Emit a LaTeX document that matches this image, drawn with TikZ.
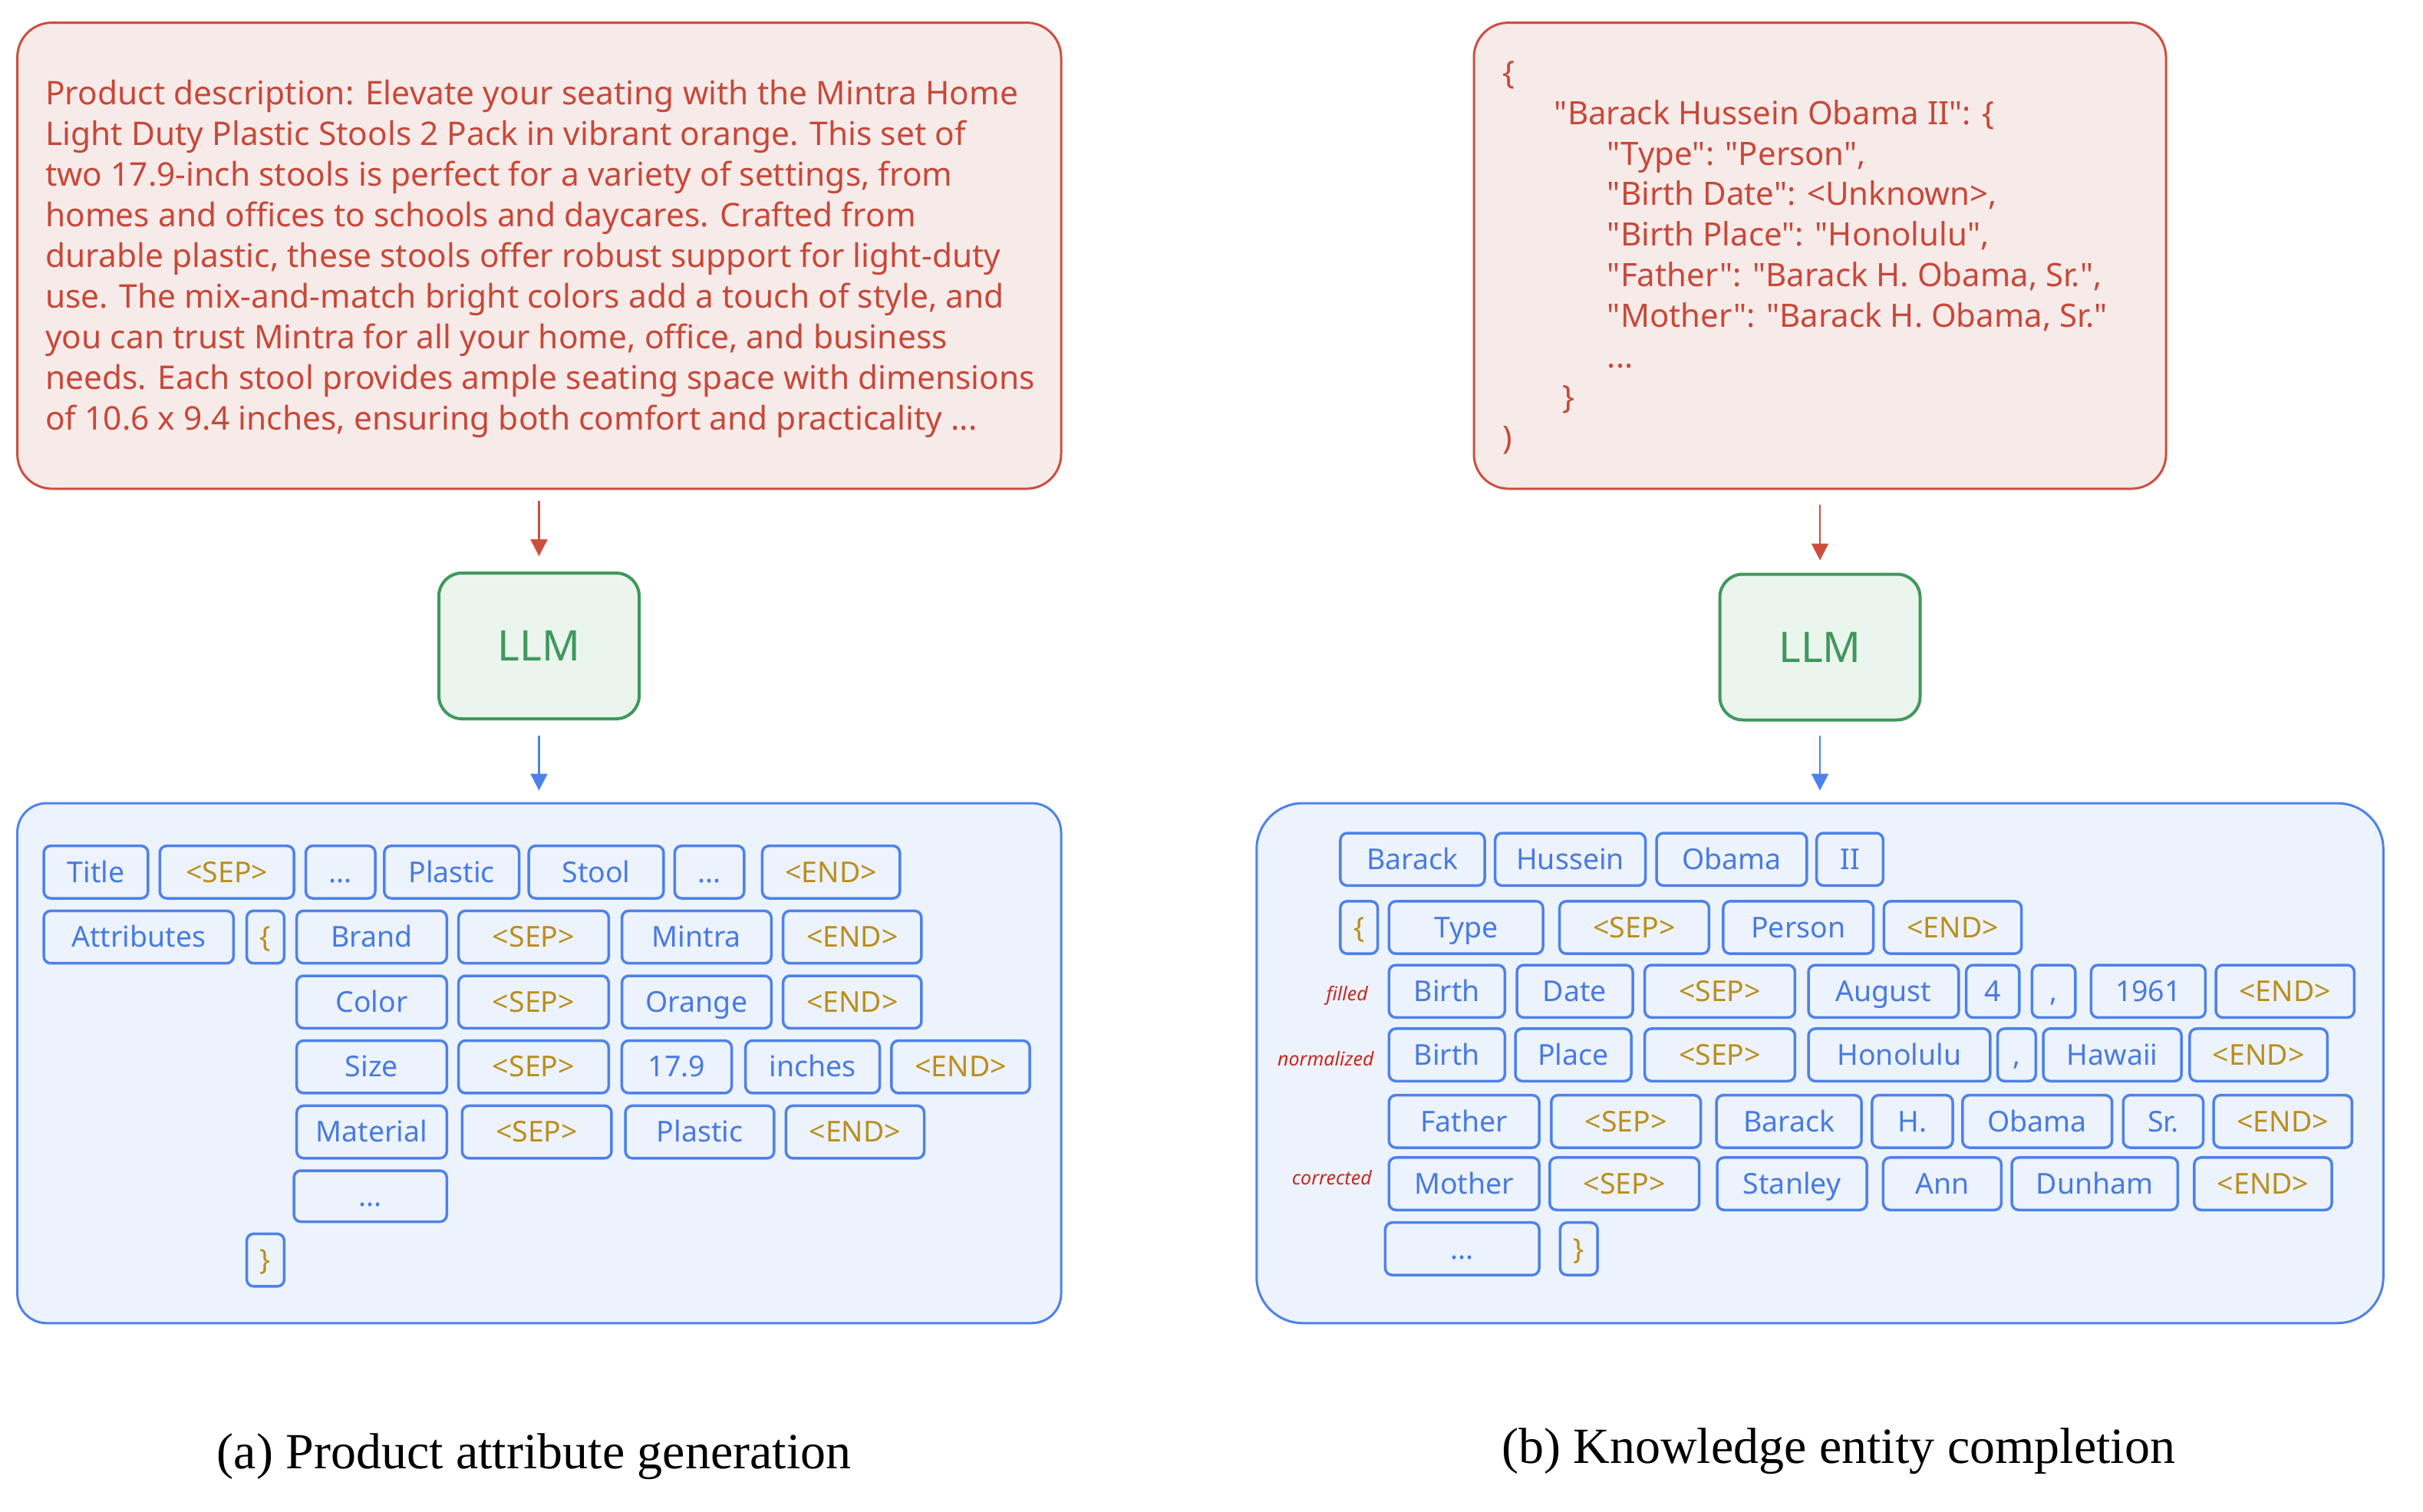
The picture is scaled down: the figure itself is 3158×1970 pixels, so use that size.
\documentclass[tikz,border=0pt]{standalone}
\usepackage{fontspec}
\setmainfont{Noto Sans}[Ligatures=TeXOff]
\newfontfamily\capfont{Liberation Serif}
\usetikzlibrary{arrows.meta}
\definecolor{redline}{RGB}{206,78,62}
\definecolor{redtxt}{RGB}{200,72,56}
\definecolor{pinkfill}{RGB}{247,235,234}
\definecolor{greenline}{RGB}{64,152,92}
\definecolor{greenfill}{RGB}{234,245,237}
\definecolor{blueline}{RGB}{78,130,234}
\definecolor{bluefill}{RGB}{237,243,253}
\definecolor{bluetxt}{RGB}{72,122,226}
\definecolor{gold}{RGB}{186,143,30}
\definecolor{labred}{RGB}{200,42,32}
\begin{document}
\begin{tikzpicture}[x=1pt,y=-1pt,
  bigred/.style={draw=redline, fill=pinkfill, line width=3pt, rounded corners=45pt, inner sep=0pt},
  bigblue/.style={draw=blueline, fill=bluefill, line width=3pt, inner sep=0pt},
  llmbox/.style={draw=greenline, fill=greenfill, line width=4pt, rounded corners=30pt,
    minimum width=261pt, minimum height=190pt, inner sep=0pt, text=greenline,
    font=\fontsize{55}{66}\selectfont},
  tok/.style={draw=blueline, fill=bluefill, line width=3.5pt, rounded corners=9pt,
    minimum height=68.4pt, inner sep=0pt, text=bluetxt, text height=33pt, text depth=6.6pt,
    font=\fontsize{37.5}{44}\selectfont},
  goldtok/.style={tok, text=gold},
  lab/.style={text=labred, inner sep=0pt, font=\fontsize{25}{28}\selectfont\itshape},
  redarr/.style={draw=redline, line width=2.5pt, -{Triangle[width=22pt,length=22pt]}},
  bluearr/.style={draw=blueline, line width=2.5pt, -{Triangle[width=22pt,length=22pt]}},
  captxt/.style={inner sep=0pt, font=\capfont\fontsize{66}{80}\selectfont}
]
\useasboundingbox (0,0) rectangle (3158,1970);

% ---------- big boxes ----------
\node[bigred, minimum width=1360.4pt, minimum height=607.5pt] (tl) at (702.8,333.3) {};
\node[bigred, minimum width=902pt, minimum height=607.5pt] (tr) at (2372,333.3) {};
\node[bigblue, rounded corners=38pt, minimum width=1360.4pt, minimum height=677.7pt] (bl) at (702.8,1385.9) {};
\node[bigblue, rounded corners=60pt, minimum width=1468.5pt, minimum height=677.7pt] (br) at (2372,1385.9) {};

% ---------- top texts ----------
\node[anchor=north west, align=left, inner sep=0pt, text=redtxt, font=\fontsize{42.5}{53}\selectfont] (desc) at (58.9,98.9)
{\strut Product description: Elevate your seating with the Mintra Home\\
Light Duty Plastic Stools 2 Pack in vibrant orange. This set of\\
two 17.9-inch stools is perfect for a variety of settings, from\\
homes and offices to schools and daycares. Crafted from\\
durable plastic, these stools offer robust support for light-duty\\
use. The mix-and-match bright colors add a touch of style, and\\
you can trust Mintra for all your home, office, and business\\
needs. Each stool provides ample seating space with dimensions\\
of 10.6 x 9.4 inches, ensuring both comfort and practicality ...};

\node[anchor=north west, align=left, inner sep=0pt, text=redtxt, font=\fontsize{42}{52.9}\selectfont] (json) at (1958.7,72)
{\strut\{\\
\hspace*{67pt}"Barack Hussein Obama II": \{\\
\hspace*{136pt}"Type": "Person",\\
\hspace*{136pt}"Birth Date": <Unknown>,\\
\hspace*{136pt}"Birth Place": "Honolulu",\\
\hspace*{136pt}"Father": "Barack H. Obama, Sr.",\\
\hspace*{136pt}"Mother": "Barack H. Obama, Sr."\\
\hspace*{136pt}...\\
\hspace*{78pt}\}\\
)};

% ---------- LLM boxes and arrows ----------
\node[llmbox] (llm1) at (702.5,842) {LLM};
\node[llmbox] (llm2) at (2372,843.5) {LLM};
\draw[redarr, shorten <=14pt, shorten >=20pt] (tl.south -| llm1.north) -- (llm1.north);
\draw[bluearr, shorten <=20pt, shorten >=15pt] (llm1.south) -- (llm1.south |- bl.north);
\draw[redarr, shorten <=19pt, shorten >=16pt] (tr.south -| llm2.north) -- (llm2.north);
\draw[bluearr, shorten <=18pt, shorten >=15pt] (llm2.south) -- (llm2.south |- br.north);

% ---------- left tokens ----------
\node[tok, minimum width=135.8pt] (a11) at (125,1136.8) {Title};
\node[goldtok, minimum width=174.8pt] (a12) at (295.7,1136.8) {<SEP>};
\node[tok, minimum width=90.5pt] (a13) at (443.8,1136.8) {...};
\node[tok, minimum width=175.7pt] (a14) at (588.7,1136.8) {Plastic};
\node[tok, minimum width=175.7pt] (a15) at (777,1136.8) {Stool};
\node[tok, minimum width=90.5pt] (a16) at (924.6,1136.8) {...};
\node[goldtok, minimum width=179.3pt] (a17) at (1083.1,1136.8) {<END>};

\node[tok, minimum width=247.2pt] (a21) at (180.7,1221.5) {Attributes};
\node[goldtok, minimum width=48.9pt] (a22) at (346,1221.5) {\{};
\node[tok, minimum width=195.6pt] (a23) at (484.5,1221.5) {Brand};
\node[goldtok, minimum width=195.6pt] (a24) at (695.5,1221.5) {<SEP>};
\node[tok, minimum width=194.7pt] (a25) at (907.9,1221.5) {Mintra};
\node[goldtok, minimum width=180.2pt] (a26) at (1110.8,1221.5) {<END>};

\node[tok, minimum width=195.6pt] (a31) at (484.5,1306.2) {Color};
\node[goldtok, minimum width=195.6pt] (a32) at (695.5,1306.2) {<SEP>};
\node[tok, minimum width=194.7pt] (a33) at (907.9,1306.2) {Orange};
\node[goldtok, minimum width=180.2pt] (a34) at (1110.8,1306.2) {<END>};

\node[tok, minimum width=195.6pt] (a41) at (484.5,1390.7) {Size};
\node[goldtok, minimum width=195.6pt] (a42) at (695.5,1390.7) {<SEP>};
\node[tok, minimum width=143.1pt] (a43) at (882,1390.7) {17.9};
\node[tok, minimum width=174.8pt] (a44) at (1059.1,1390.7) {inches};
\node[goldtok, minimum width=180.2pt] (a45) at (1252,1390.7) {<END>};

\node[tok, minimum width=195.6pt] (a51) at (484.5,1475.6) {Material};
\node[goldtok, minimum width=194.7pt] (a52) at (699.6,1475.6) {<SEP>};
\node[tok, minimum width=193.8pt] (a53) at (912,1475.6) {Plastic};
\node[goldtok, minimum width=180.2pt] (a54) at (1114.4,1475.6) {<END>};

\node[tok, minimum width=199.2pt, minimum height=66.6pt] (a61) at (482.7,1559.3) {...};
\node[goldtok, minimum width=48.9pt] (a71) at (346,1642.6) {\}};

% ---------- right tokens ----------
\node[tok, minimum width=188.1pt] (b11) at (1841,1120.2) {Barack};
\node[tok, minimum width=195.8pt] (b12) at (2046.6,1120.2) {Hussein};
\node[tok, minimum width=195.9pt] (b13) at (2257,1120.2) {Obama};
\node[tok, minimum width=86.7pt] (b14) at (2411,1120.2) {II};

\node[goldtok, minimum width=48.8pt] (b21) at (1771.3,1209) {\{};
\node[tok, minimum width=200.7pt] (b22) at (1910.7,1209) {Type};
\node[goldtok, minimum width=194.9pt] (b23) at (2130,1209) {<SEP>};
\node[tok, minimum width=195.8pt] (b24) at (2343.8,1209) {Person};
\node[goldtok, minimum width=179.3pt] (b25) at (2545,1209) {<END>};

\node[lab, anchor=mid east] (lf) at (1783,1302) {filled};
\node[tok, minimum width=151pt] (b31) at (1885.8,1292.2) {Birth};
\node[tok, minimum width=151pt] (b32) at (2052.5,1292.2) {Date};
\node[goldtok, minimum width=195.9pt] (b33) at (2241.5,1292.2) {<SEP>};
\node[tok, minimum width=195.8pt] (b34) at (2454.9,1292.2) {August};
\node[tok, minimum width=69.2pt] (b35) at (2597.2,1292.2) {4};
\node[tok, minimum width=56.5pt] (b36) at (2676.6,1292.2) {,};
\node[tok, minimum width=149.1pt] (b37) at (2799.9,1292.2) {1961};
\node[goldtok, minimum width=180.3pt] (b38) at (2978.2,1292.2) {<END>};

\node[lab, anchor=mid east] (ln) at (1790.8,1386.5) {normalized};
\node[tok, minimum width=151pt] (b41) at (1885.8,1375.1) {Birth};
\node[tok, minimum width=151pt] (b42) at (2050.5,1375.1) {Place};
\node[goldtok, minimum width=195.9pt] (b43) at (2241.5,1375.1) {<SEP>};
\node[tok, minimum width=236.8pt] (b44) at (2475.4,1375.1) {Honolulu};
\node[tok, minimum width=49.7pt] (b45) at (2628.4,1375.1) {,};
\node[tok, minimum width=180.2pt] (b46) at (2753.1,1375.1) {Hawaii};
\node[goldtok, minimum width=179.3pt] (b47) at (2943.6,1375.1) {<END>};

\node[tok, minimum width=195.8pt] (b51) at (1908.2,1461.8) {Father};
\node[goldtok, minimum width=194.9pt] (b52) at (2119.2,1461.8) {<SEP>};
\node[tok, minimum width=189pt] (b53) at (2331.6,1461.8) {Barack};
\node[tok, minimum width=105.2pt] (b54) at (2492.4,1461.8) {H.};
\node[tok, minimum width=194.9pt] (b55) at (2655.2,1461.8) {Obama};
\node[tok, minimum width=104.3pt] (b56) at (2819.4,1461.8) {Sr.};
\node[goldtok, minimum width=180.3pt] (b57) at (2975.3,1461.8) {<END>};

\node[lab, anchor=mid east] (lc) at (1787.9,1541.7) {corrected};
\node[tok, minimum width=195.8pt] (b61) at (1908.2,1543.1) {Mother};
\node[goldtok, minimum width=194.9pt] (b62) at (2117.2,1543.1) {<SEP>};
\node[tok, minimum width=194.9pt] (b63) at (2335.6,1543.1) {Stanley};
\node[tok, minimum width=154pt] (b64) at (2531.4,1543.1) {Ann};
\node[tok, minimum width=216.3pt] (b65) at (2730.2,1543.1) {Dunham};
\node[goldtok, minimum width=179.3pt] (b66) at (2949.5,1543.1) {<END>};

\node[tok, minimum width=200.7pt] (b71) at (1905.8,1627.9) {...};
\node[goldtok, minimum width=48.8pt] (b72) at (2057.8,1627.9) {\}};

% ---------- captions ----------
\node[captxt, anchor=base] (capa) at (696,1914) {(a) Product attribute generation};
\node[captxt, anchor=base] (capb) at (2396,1907) {(b) Knowledge entity completion};
\end{tikzpicture}
\end{document}
